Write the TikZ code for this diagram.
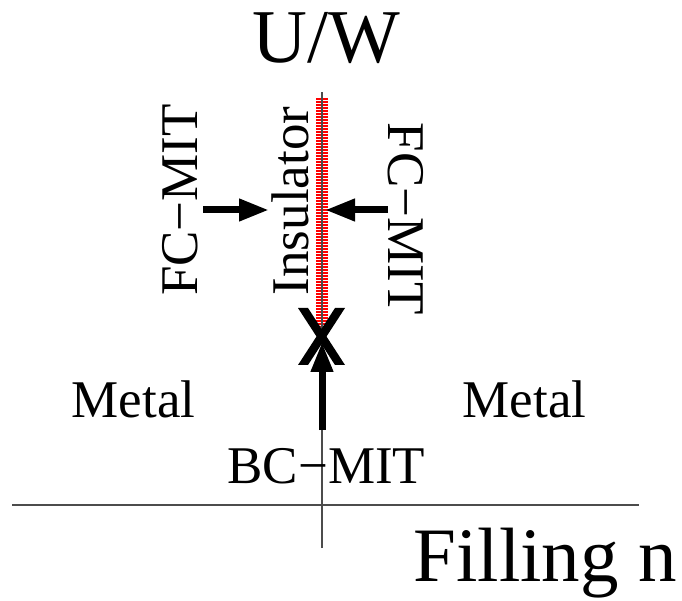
\documentclass[tikz,border=0pt]{standalone}
\usepackage{fontspec}
\setmainfont{Liberation Serif}
\usetikzlibrary{arrows.meta,calc}
\begin{document}
\begin{tikzpicture}[x=1pt,y=1pt,
  lbl/.style={inner sep=0pt, anchor=base, font=\fontsize{53}{53}\selectfont},
  axis/.style={draw=black!70, line width=1.3pt},
  bigarrow/.style={line width=7pt, -{Triangle[length=30pt,width=21pt]}},
  band/.style={draw=red, line width=12.5pt, dash pattern=on 2.2pt off 0.8pt},
  cross/.style={fill=black}]
\useasboundingbox (0,0) rectangle (682,600);
% axes
\coordinate (hL) at (12,95);
\coordinate (hR) at (639,95);
\coordinate (vB) at (322,52);
\coordinate (vT) at (322,508);
% insulator band
\coordinate (bT) at (322,502);
\coordinate (bB) at (322,273);
\draw[band] (bT) -- (bB);
\draw[axis] (hL) -- (hR);
\draw[axis] (vB) -- (vT);
% cross
\coordinate (X) at (321.5,263.5);
\fill[cross] ($(X)+(-23.5,28.5)$) -- ($(X)+(-13.5,28.5)$) -- ($(X)+(23.5,-28.5)$) -- ($(X)+(13.5,-28.5)$) -- cycle;
\fill[cross] ($(X)+(23.5,28.5)$) -- ($(X)+(13.5,28.5)$) -- ($(X)+(-23.5,-28.5)$) -- ($(X)+(-13.5,-28.5)$) -- cycle;
% labels
\node[lbl, font=\fontsize{76}{76}\selectfont] (uw) at (326.5,537) {U/W};
\node[lbl, font=\fontsize{77}{77}\selectfont] (fill) at (545,19) {Filling n};
\node[lbl] (metalL) at (133.5,183) {Metal};
\node[lbl] (metalR) at (524.5,183) {Metal};
\node[lbl] (bc) at (326.5,117) {BC−MIT};
\node[lbl, rotate=90] (fcL) at (197,400) {FC−MIT};
\node[lbl, rotate=90] (ins) at (308,399) {Insulator};
\node[lbl, rotate=-90] (fcR) at (388,381.5) {FC−MIT};
% arrows
\coordinate (bcS) at (322,170);
\coordinate (bcE) at (322,258);
\draw[bigarrow] (bcS) -- (bcE);
\coordinate (lS) at (203,390);
\coordinate (lE) at (269,390);
\draw[bigarrow] (lS) -- (lE);
\coordinate (rS) at (388,390);
\coordinate (rE) at (325,390);
\draw[bigarrow] (rS) -- (rE);
\end{tikzpicture}
\end{document}
